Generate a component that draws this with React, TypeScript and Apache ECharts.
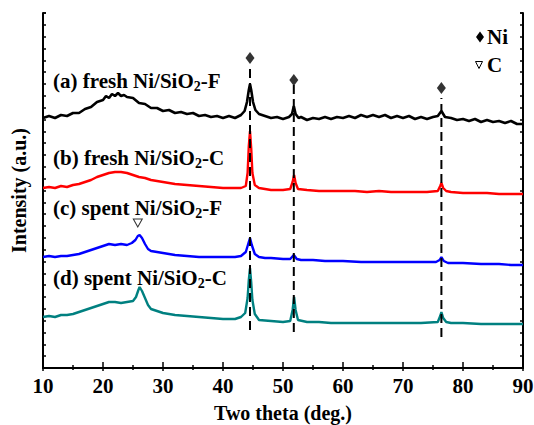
import React, { useEffect, useRef } from "react";
import * as echarts from "echarts";

const xTicks = [10, 20, 30, 40, 50, 60, 70, 80, 90];
const seriesNames = ["(a) fresh Ni/SiO2-F", "(b) fresh Ni/SiO2-C", "(c) spent Ni/SiO2-F", "(d) spent Ni/SiO2-C"];
const seriesColors = ["#000000", "#ff0000", "#0000ff", "#008080"];

const freshF = [[10,250],[11,252],[12,250],[13,253],[14,252],[15,255],[16,255],[17,259],[18,261],[19,266],[20,268],[20.5,272],[21,270],[21.5,274],[22,272],[22.5,275],[23,272],[23.5,273],[24,271],[25,270],[26,265],[27,264],[28,260],[29,260],[30,257],[31,258],[32,255],[33,256],[34,254],[35,255],[36,252],[37,253],[38,251],[39,252],[40,250],[41,252],[42,250],[43,253],[43.6,257],[44.0,266],[44.3,278],[44.5,284],[44.7,278],[45.0,266],[45.4,258],[46,254],[47,252],[48,250],[49,251],[50,249],[51,251],[51.5,254],[51.8,262],[52.1,254],[52.6,250],[53,251],[54,248],[55,250],[56,249],[57,251],[58,249],[59,251],[60,250],[61,252],[62,250],[63,253],[64,251],[65,253],[66,251],[67,253],[68,250],[69,252],[70,250],[71,252],[72,249],[73,251],[74,249],[75,251],[75.8,252],[76.4,257],[77,251],[78,250],[79,248],[80,249],[81,247],[82,249],[83,246],[84,248],[85,246],[86,247],[87,245],[88,247],[89,244],[90,244]];

const freshC = [[10,180],[11,181],[12,180],[13,182],[14,181],[15,183],[16,184],[17,186],[18,188],[19,191],[20,193],[21,195],[22,196],[23,196],[24,195],[25,193],[26,191],[27,190],[28,188],[29,187],[30,186],[32,184],[34,183],[36,182],[38,181],[40,180],[42,180],[43,180],[43.8,182],[44.1,195],[44.3,222],[44.5,237],[44.7,220],[44.9,195],[45.3,183],[46,180],[48,178],[50,178],[51.2,179],[51.6,186],[51.85,193],[52.1,185],[52.5,179],[54,178],[56,177],[58,177],[60,177],[62,177],[64,176],[66,177],[68,176],[70,176],[72,176],[74,176],[75.8,177],[76.2,182],[76.4,185],[76.7,180],[77.2,177],[78,176],[80,175],[82,175],[84,175],[86,174],[88,174],[90,174]];

const spentF = [[10,111],[11,112],[12,111],[13,112],[14,112],[15,113],[16,114],[17,116],[18,118],[19,120],[20,122],[21,124],[22,123],[23,124],[24,123],[24.8,125],[25.4,128],[25.8,132],[26.1,133],[26.5,130],[27,124],[27.5,119],[28,117],[29,116],[30,115],[31,114],[32,113],[34,112],[36,111],[38,111],[40,111],[42,111],[43,112],[43.8,116],[44.2,124],[44.5,130],[44.8,123],[45.3,114],[46,111],[47,110],[48,110],[50,109],[51.2,109],[51.8,113],[52.3,109],[53,108],[55,108],[57,107],[60,107],[63,106],[66,106],[70,106],[73,106],[75.5,106],[76.1,108],[76.4,111],[76.8,107],[77.5,105],[80,105],[83,104],[86,104],[88,103],[90,103]];

const spentC = [[10,51],[11,52],[12,51],[13,53],[14,53],[15,54],[16,56],[17,58],[18,60],[19,62],[20,64],[21,66],[22,66],[23,65],[24,66],[25,67],[25.5,71],[25.9,78],[26.1,81],[26.5,77],[27,70],[27.5,63],[28,59],[29,57],[30,55],[31,54],[32,53],[34,52],[36,51],[38,50],[40,49],[42,49],[43,51],[43.7,55],[44.1,70],[44.3,88],[44.5,100],[44.7,86],[44.9,68],[45.3,54],[46,48],[48,47],[50,46],[51.2,47],[51.6,58],[51.85,71],[52.1,58],[52.5,48],[54,46],[56,46],[58,45],[60,45],[63,45],[66,45],[70,45],[73,45],[75.8,46],[76.2,52],[76.4,56],[76.7,50],[77.2,46],[78,45],[80,45],[83,44],[86,44],[88,44],[90,44]];

const niPeaks = [44.5, 51.8, 76.4];
const dashTop = [300, 283, 270];
const dashBottom = [38, 36, 31];
const diamondY = [310, 288, 280];
const carbonPeak = [[25.8, 145]];
const labelY = [83, 160, 210, 280];

const FONT = "'Liberation Serif', 'Times New Roman', serif";

export default function App() {
  const ref = useRef<HTMLDivElement>(null);
  useEffect(() => {
    if (!ref.current) return;
    const chart = echarts.init(ref.current, null, { renderer: "svg" });
    const allData = [freshF, freshC, spentF, spentC];
    const curveSeries = allData.map((d, i) => ({
      type: "line",
      name: seriesNames[i],
      data: d,
      showSymbol: false,
      symbol: "none",
      lineStyle: { color: seriesColors[i], width: i === 0 ? 2.6 : 2.4 },
      z: 2,
    }));
    const dashSeries = niPeaks.map((p, i) => ({
      type: "line",
      data: [[p, dashBottom[i]], [p, dashTop[i]]],
      showSymbol: false,
      symbol: "none",
      lineStyle: { color: "#000", width: 2, type: [9, 5] },
      z: 3,
    }));
    const richLabel = (name: string) => {
      const parts = name.split("2");
      return "{n|" + parts[0] + "}{s|2}{n|" + parts[1] + "}";
    };
    const graphics: any[] = seriesNames.map((name, i) => ({
      type: "text",
      left: 53,
      top: labelY[i] - 13,
      style: {
        text: richLabel(name),
        fill: "#000",
        rich: {
          n: { fontFamily: FONT, fontWeight: "bold", fontSize: 21, lineHeight: 25, fill: "#000" },
          s: { fontFamily: FONT, fontWeight: "bold", fontSize: 14, lineHeight: 14, verticalAlign: "bottom", fill: "#000" },
        },
      },
      z: 10,
    }));
    graphics.push(
      { type: "polygon", shape: { points: [[480, 31.5], [484, 37], [480, 42.5], [476, 37]] }, style: { fill: "#000" }, z: 10 },
      { type: "text", left: 487, top: 26, style: { text: "Ni", fontFamily: FONT, fontWeight: "bold", fontSize: 21, fill: "#000" }, z: 10 },
      { type: "polygon", shape: { points: [[475.5, 61.5], [482.5, 61.5], [479, 68.5]] }, style: { fill: "#fff", stroke: "#000", lineWidth: 1 }, z: 10 },
      { type: "text", left: 487, top: 54, style: { text: "C", fontFamily: FONT, fontWeight: "bold", fontSize: 21, fill: "#000" }, z: 10 }
    );
    const yInterval = 355 / 30;
    const option: any = {
      animation: false,
      backgroundColor: "#fff",
      grid: { left: 43, right: 11, top: 13, bottom: 57, containLabel: false, outerBoundsMode: "none" },
      xAxis: [
        {
          type: "value",
          min: xTicks[0],
          max: xTicks[xTicks.length - 1],
          interval: 10,
          name: "Two theta (deg.)",
          nameLocation: "middle",
          nameGap: 35,
          nameTextStyle: { fontFamily: FONT, fontWeight: "bold", fontSize: 20, color: "#000" },
          axisLine: { lineStyle: { color: "#000", width: 2 } },
          axisTick: { inside: true, length: 6, lineStyle: { color: "#000", width: 1.5 } },
          minorTick: { show: true, splitNumber: 2, length: 3, lineStyle: { color: "#000", width: 1.5 } },
          axisLabel: { fontFamily: FONT, fontWeight: "bold", fontSize: 21, color: "#000", margin: 7 },
          splitLine: { show: false },
        },
        {
          type: "value",
          position: "top",
          min: xTicks[0],
          max: xTicks[xTicks.length - 1],
          interval: 10,
          axisLine: { lineStyle: { color: "#000", width: 2 } },
          axisTick: { inside: true, length: 3, lineStyle: { color: "#000", width: 1.5 } },
          minorTick: { show: true, splitNumber: 2, length: 2, lineStyle: { color: "#000", width: 1.5 } },
          axisLabel: { show: false },
          splitLine: { show: false },
        },
      ],
      yAxis: [
        {
          type: "value",
          min: 0,
          max: 355,
          interval: yInterval,
          name: "Intensity (a.u.)",
          nameLocation: "middle",
          nameGap: 14,
          nameTextStyle: { fontFamily: FONT, fontWeight: "bold", fontSize: 20, color: "#000" },
          axisLine: { show: true, lineStyle: { color: "#000", width: 2 } },
          axisTick: { show: true, inside: true, length: 3, lineStyle: { color: "#000", width: 1.5 } },
          axisLabel: { show: false },
          splitLine: { show: false },
        },
        {
          type: "value",
          position: "right",
          min: 0,
          max: 355,
          interval: yInterval,
          axisLine: { show: true, lineStyle: { color: "#000", width: 2 } },
          axisTick: { show: true, inside: true, length: 3, lineStyle: { color: "#000", width: 1.5 } },
          axisLabel: { show: false },
          splitLine: { show: false },
        },
      ],
      series: [
        ...curveSeries,
        ...dashSeries,
        {
          type: "scatter",
          data: niPeaks.map((p, i) => [p, diamondY[i]]),
          symbol: "diamond",
          symbolSize: [9, 12],
          itemStyle: { color: "#000" },
          z: 4,
        },
        {
          type: "scatter",
          data: carbonPeak,
          symbol: "triangle",
          symbolRotate: 180,
          symbolSize: [9, 8],
          itemStyle: { color: "#fff", borderColor: "#000", borderWidth: 1 },
          z: 4,
        },
      ],
      graphic: graphics,
    };
    chart.setOption(option);
    return () => chart.dispose();
  }, []);
  return <div ref={ref} style={{ position: "absolute", left: 0, top: 0, width: 534, height: 425 }} />;
}
